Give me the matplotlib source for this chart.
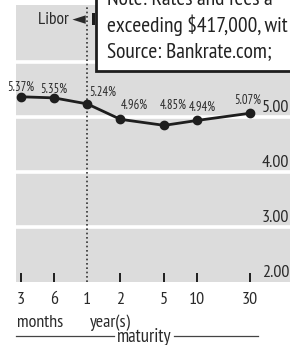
import matplotlib
matplotlib.use("Agg")
import matplotlib.pyplot as plt
from matplotlib.patches import Rectangle
from matplotlib.ticker import NullLocator, FixedLocator, FixedFormatter

# ---------------- DATA ---------------- #
maturity_months = [3, 6, 12, 24, 60, 120, 360]
maturity_labels = ["3", "6", "1", "2", "5", "10", "30"]
rates = [5.37, 5.35, 5.24, 4.96, 4.85, 4.94, 5.07]
rate_labels = ["5.37%", "5.35%", "5.24%", "4.96%", "4.85%", "4.94%", "5.07%"]
y_levels = [2.0, 3.0, 4.0, 5.0]
y_labels = ["2.00", "3.00", "4.00", "5.00"]
note_lines = ["Note: Rates and fees a", "exceeding $417,000, wit", "Source: Bankrate.com;"]
# -------------------------------------- #

FONT = ["PT Sans Narrow", "Roboto Condensed", "DejaVu Sans"]
plt.rcParams["font.family"] = FONT
INK = "#1e1e1e"
TXT = "#2a2a2a"
W, H = 290, 345

fig = plt.figure(figsize=(W / 100, H / 100), dpi=100)
fig.patch.set_facecolor("white")
ax = fig.add_axes([16 / W, 63 / H, 274 / W, 277 / H])
ax.set_facecolor("#dcdcdc")
ax.set_xscale("log")
ax.set_xlim(2.7, 834)
ax.set_ylim(2.0, 7.04)
for s in ax.spines.values():
    s.set_visible(False)

# white grid lines
for v in [3, 4, 5, 6]:
    ax.axhline(v, color="white", lw=2.6, zorder=1)

# 1-year divider (Libor | Treasury)
ax.axvline(12, color="#333333", lw=1.2, ls=(0, (1, 1.6)), zorder=2)

# series
ax.plot(maturity_months, rates, color=INK, lw=2, marker="o", ms=6, zorder=3)

# value labels (offsets in pixels)
offsets = [(0, 9, "center"), (0, 9, "center"), (2, 12, "left"), (14, 14, "center"),
           (9, 20, "center"), (5, 13, "center"), (-2, 13, "center")]
for m, r, lab, (dx, dy, ha) in zip(maturity_months, rates, rate_labels, offsets):
    ax.annotate(lab, (m, r), xytext=(dx * 0.72, dy * 0.72), textcoords="offset points",
                ha=ha, va="center", fontsize=9, color=TXT, zorder=4)

# right-side value labels
ytr = ax.get_yaxis_transform()
for v, lab in zip(y_levels, y_labels):
    ax.text(0.898, v + 0.09, lab, transform=ytr, ha="left", va="baseline",
            fontsize=13, color=TXT, zorder=4)

# x ticks
ax.xaxis.set_major_locator(FixedLocator(maturity_months))
ax.xaxis.set_major_formatter(FixedFormatter(maturity_labels))
ax.xaxis.set_minor_locator(NullLocator())
ax.tick_params(axis="x", length=0, pad=7, labelsize=13, labelcolor=TXT)
ax.set_yticks([])
xtr = ax.get_xaxis_transform()
tick_pos = [m for m in maturity_months if m != 12]
ax.vlines(tick_pos, 0.0, 0.034, transform=xtr, color=INK, lw=1.4, zorder=3)

# Libor marker
ax.text(0.255, 0.9455, "Libor \u25c4", transform=ax.transAxes, ha="right", va="center",
        fontsize=12.5, color=TXT, family=FONT, zorder=4)

# axis captions
fig.text(17 / W, 1 - 323 / H, "months", ha="left", va="center", fontsize=13, color=TXT)
fig.text(90 / W, 1 - 323 / H, "year(s)", ha="left", va="center", fontsize=13, color=TXT)
fig.text(144 / W, 1 - 337 / H, "maturity", ha="center", va="center", fontsize=13.5, color=TXT)
fig.add_artist(plt.Line2D([16 / W, 114 / W], [1 - 336 / H] * 2, color="#444444", lw=0.9))
fig.add_artist(plt.Line2D([174 / W, 258 / W], [1 - 336 / H] * 2, color="#444444", lw=0.9))

# note box cropped at top-right
fig.add_artist(Rectangle((92 / W, 1 - 25 / H), 3 / W, 12 / H, transform=fig.transFigure,
                         facecolor=INK, edgecolor="none", zorder=5))
fig.add_artist(Rectangle((96 / W, 1 - 71 / H), 200 / W, 80 / H, transform=fig.transFigure,
                         facecolor="white", edgecolor=INK, lw=2, zorder=6))
for i, line in enumerate(note_lines):
    base = [5, 32, 57][i]
    fig.text(107 / W, 1 - base / H, line, ha="left", va="baseline", fontsize=15.5,
             color="#222222", zorder=7)

fig.savefig("out.png", dpi=100)
